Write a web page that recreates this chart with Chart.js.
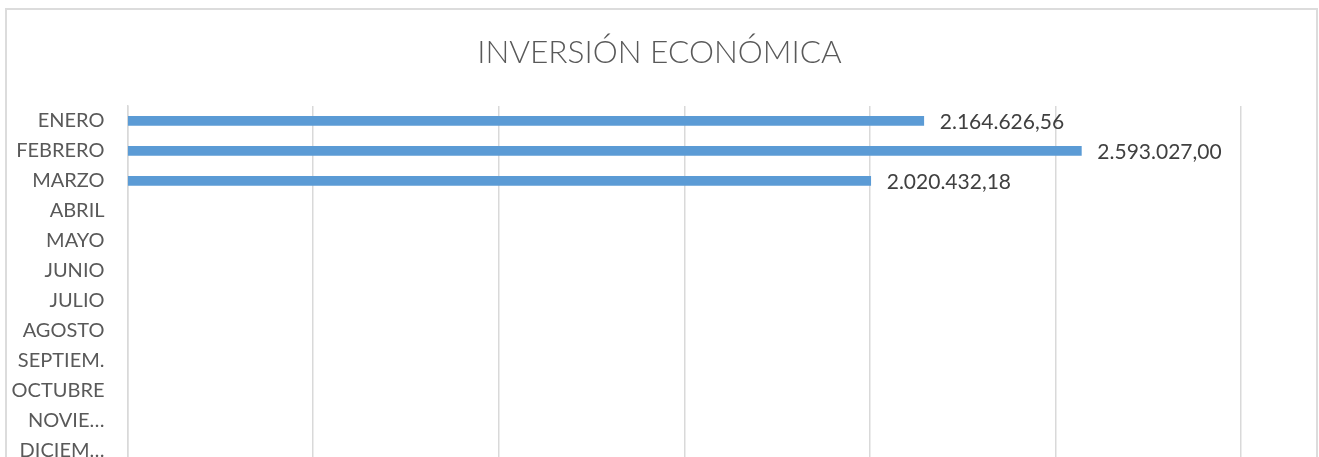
<!DOCTYPE html>
<html>
<head>
<meta charset="utf-8">
<script src="https://cdn.jsdelivr.net/npm/chart.js@4/dist/chart.umd.min.js"></script>
<style>
  html, body { margin: 0; padding: 0; background: #ffffff; overflow: hidden; }
  #wrap { position: relative; width: 1319px; height: 501px; }
  #frame { position: absolute; left: 5px; top: 8px; width: 1309px; height: 490px;
           border: 2px solid #dcdcdc; pointer-events: none; }
  canvas { position: absolute; left: 0; top: 0; }
</style>
</head>
<body>
<div id="wrap">
  <canvas id="c" width="1319" height="501"></canvas>
  <div id="frame"></div>
</div>
<script>
const title = "INVERSIÓN ECONÓMICA";
const categories = ["ENERO", "FEBRERO", "MARZO", "ABRIL", "MAYO", "JUNIO", "JULIO",
                    "AGOSTO", "SEPTIEM.", "OCTUBRE", "NOVIE…", "DICIEM…"];
const investment = [2164626.56, 2593027.00, 2020432.18, null, null, null, null,
                    null, null, null, null, null];
const axisMin = 0;
const axisMax = 3027000;
const axisStep = 504500;

function fmtES(v) {
  const fixed = v.toFixed(2);
  const parts = fixed.split(".");
  const intPart = parts[0].replace(/\B(?=(\d{3})+(?!\d))/g, ".");
  return intPart + "," + parts[1];
}

const valueLabels = {
  id: "valueLabels",
  afterDatasetsDraw(chart) {
    const ctx = chart.ctx;
    const meta = chart.getDatasetMeta(0);
    ctx.save();
    ctx.font = "400 21px Lato, 'Open Sans', sans-serif";
    ctx.fillStyle = "#404040";
    ctx.textAlign = "left";
    ctx.textBaseline = "middle";
    meta.data.forEach((bar, i) => {
      const v = chart.data.datasets[0].data[i];
      if (v === null || v === undefined) return;
      ctx.fillText(fmtES(v), bar.x + 16, bar.y + 1);
    });
    ctx.restore();
  }
};

new Chart(document.getElementById("c"), {
  type: "bar",
  data: {
    labels: categories,
    datasets: [{
      data: investment,
      backgroundColor: "#5B9BD5",
      borderWidth: 0,
      barThickness: 9
    }]
  },
  options: {
    indexAxis: "y",
    responsive: false,
    animation: false,
    devicePixelRatio: 1,
    layout: { padding: { left: 0, right: 0, top: 0, bottom: 0 } },
    plugins: {
      legend: { display: false },
      tooltip: { enabled: false },
      title: {
        display: true,
        text: title,
        color: "#595959",
        font: { family: "Lato, 'Open Sans', sans-serif", size: 31.6, weight: 300, lineHeight: 1.2 },
        padding: { top: 34, bottom: 34 }
      }
    },
    scales: {
      x: {
        type: "linear",
        min: axisMin,
        max: axisMax,
        ticks: { display: false, stepSize: axisStep },
        grid: { color: "#d9d9d9", lineWidth: 1.5, drawTicks: false },
        border: { display: false },
        afterFit(scale) { scale.height = 0; }
      },
      y: {
        type: "category",
        ticks: {
          color: "#595959",
          font: { family: "Lato, 'Open Sans', sans-serif", size: 20 },
          padding: 23,
          autoSkip: false
        },
        grid: { display: false, drawTicks: false },
        border: { display: true, color: "#d9d9d9", width: 1.5 },
        afterFit(scale) { scale.width = 127.5; }
      },
      yRight: {
        type: "category",
        position: "right",
        ticks: { display: false },
        grid: { display: false, drawTicks: false },
        border: { display: false },
        afterFit(scale) { scale.width = 78; }
      }
    }
  },
  plugins: [valueLabels]
});
</script>
</body>
</html>
